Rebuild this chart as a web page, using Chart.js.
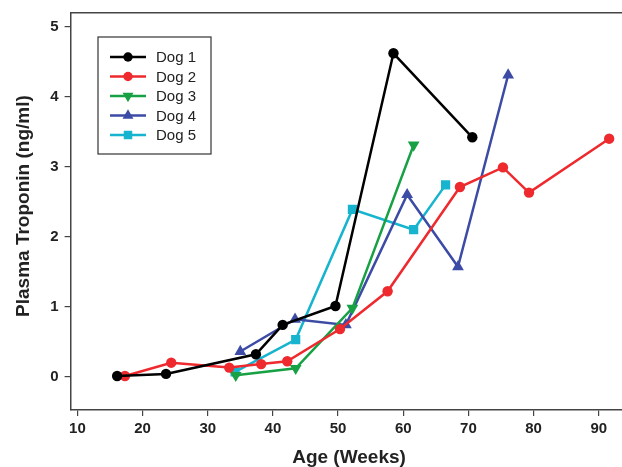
<!DOCTYPE html>
<html>
<head>
<meta charset="utf-8">
<script src="https://cdn.jsdelivr.net/npm/chart.js@4.4.0/dist/chart.umd.min.js"></script>
<style>
  html, body { margin: 0; padding: 0; background: #fff; overflow: hidden; }
  #wrap { width: 629px; height: 467px; }
</style>
</head>
<body>
<div id="wrap"><canvas id="troponinChart"></canvas></div>
<script>
// Values
const dogNames = ['Dog 1', 'Dog 2', 'Dog 3', 'Dog 4', 'Dog 5'];

const dog1Age = [16.1, 23.6, 37.4, 41.5, 49.6, 58.5, 70.6];
const dog1Tn  = [0.01, 0.04, 0.32, 0.74, 1.01, 4.62, 3.42];

const dog2Age = [17.3, 24.4, 33.3, 38.2, 42.2, 50.3, 57.6, 68.7, 75.3, 79.3, 91.6];
const dog2Tn  = [0.01, 0.20, 0.13, 0.18, 0.22, 0.68, 1.22, 2.71, 2.99, 2.63, 3.40];

const dog3Age = [34.3, 43.5, 52.2, 61.6];
const dog3Tn  = [0.02, 0.12, 0.98, 3.31];

const dog4Age = [35.0, 43.4, 51.2, 60.6, 68.4, 76.1];
const dog4Tn  = [0.36, 0.82, 0.74, 2.60, 1.57, 4.31];

const dog5Age = [34.2, 43.5, 52.2, 61.6, 66.5];
const dog5Tn  = [0.07, 0.53, 2.39, 2.10, 2.74];

const xTicks = [10, 20, 30, 40, 50, 60, 70, 80, 90];
const yTicks = [0, 1, 2, 3, 4, 5];

const colors = ['#000000', '#ee2a2e', '#17a144', '#3c4ba5', '#16b4cf'];
const markers = ['circle', 'circle', 'triangle', 'triangle', 'rect'];
const rotations = [0, 0, 180, 0, 0];
const sizes = [5.2, 5.2, 6.8, 6.8, 6.5];

const ages = [dog1Age, dog2Age, dog3Age, dog4Age, dog5Age];
const levels = [dog1Tn, dog2Tn, dog3Tn, dog4Tn, dog5Tn];

const FONT = '"Liberation Sans", Arial, sans-serif';

function toPoints(xs, ys) {
    return xs.map((x, i) => ({ x: x, y: ys[i] }));
}

const datasets = dogNames.map((name, i) => ({
    label: name,
    data: toPoints(ages[i], levels[i]),
    showLine: true,
    borderColor: colors[i],
    backgroundColor: colors[i],
    borderWidth: 2.5,
    pointStyle: markers[i],
    rotation: rotations[i],
    pointRadius: sizes[i],
    pointBorderWidth: 0,
    tension: 0
}));

// top frame line + hand drawn legend (line with marker through it)
const framePlugin = {
    id: 'frame',
    afterDraw(chart) {
        const { ctx, chartArea } = chart;
        ctx.save();
        ctx.strokeStyle = '#444';
        ctx.lineWidth = 1.5;
        ctx.beginPath();
        ctx.moveTo(chartArea.left, chartArea.top);
        ctx.lineTo(chartArea.right, chartArea.top);
        ctx.stroke();

        // legend box
        const bx = 98, by = 37, bw = 113, bh = 117;
        ctx.fillStyle = '#fff';
        ctx.fillRect(bx, by, bw, bh);
        ctx.strokeStyle = '#333';
        ctx.lineWidth = 1.2;
        ctx.strokeRect(bx, by, bw, bh);
        ctx.font = '15px ' + FONT;
        ctx.textBaseline = 'middle';
        dogNames.forEach((name, i) => {
            const y = 57 + i * 19.5;
            ctx.strokeStyle = colors[i];
            ctx.lineWidth = 2.5;
            ctx.beginPath();
            ctx.moveTo(110, y);
            ctx.lineTo(146, y);
            ctx.stroke();
            ctx.fillStyle = colors[i];
            Chart.helpers.drawPoint(ctx, {
                pointStyle: markers[i],
                rotation: rotations[i],
                radius: sizes[i] - 0.5,
                borderWidth: 0
            }, 128, y);
            ctx.fillStyle = '#222';
            ctx.fillText(name, 156, y + 1);
        });
        ctx.restore();
    }
};

const ctx = document.getElementById('troponinChart').getContext('2d');
new Chart(ctx, {
    type: 'scatter',
    data: { datasets: datasets },
    plugins: [framePlugin],
    options: {
        responsive: true,
        maintainAspectRatio: false,
        animation: false,
        layout: { padding: { top: 12.7, right: 0, left: 0, bottom: 0 } },
        plugins: {
            legend: { display: false },
            tooltip: { enabled: false }
        },
        scales: {
            x: {
                type: 'linear',
                min: 8.96,
                max: 93.6,
                afterBuildTicks: s => { s.ticks = xTicks.map(v => ({ value: v })); },
                afterFit: s => { s.height = 57; s.paddingLeft = 0; s.paddingRight = 0; },
                grid: { drawOnChartArea: false, tickLength: 6, color: '#444', lineWidth: 1.2 },
                border: { color: '#444', width: 1.5 },
                ticks: {
                    color: '#222',
                    padding: 4,
                    maxRotation: 0,
                    font: { family: FONT, size: 15, weight: 'bold' }
                },
                title: {
                    display: true,
                    text: ' Age (Weeks)',
                    color: '#222',
                    padding: { top: 0, bottom: -2 },
                    font: { family: FONT, size: 19, weight: 'bold' }
                }
            },
            y: {
                type: 'linear',
                min: -0.476,
                max: 5.2,
                afterBuildTicks: s => { s.ticks = yTicks.map(v => ({ value: v })); },
                afterFit: s => { s.width = 70.6; s.paddingTop = 0; s.paddingBottom = 0; },
                grid: { drawOnChartArea: false, tickLength: 6, color: '#444', lineWidth: 1.2 },
                border: { color: '#444', width: 1.5 },
                ticks: {
                    color: '#222',
                    padding: 6,
                    font: { family: FONT, size: 15, weight: 'bold' }
                },
                title: {
                    display: true,
                    text: '  Plasma Troponin (ng/ml)',
                    color: '#222',
                    padding: { top: 12.5, bottom: 0 },
                    font: { family: FONT, size: 19, weight: 'bold' }
                }
            }
        }
    }
});
</script>
</body>
</html>
